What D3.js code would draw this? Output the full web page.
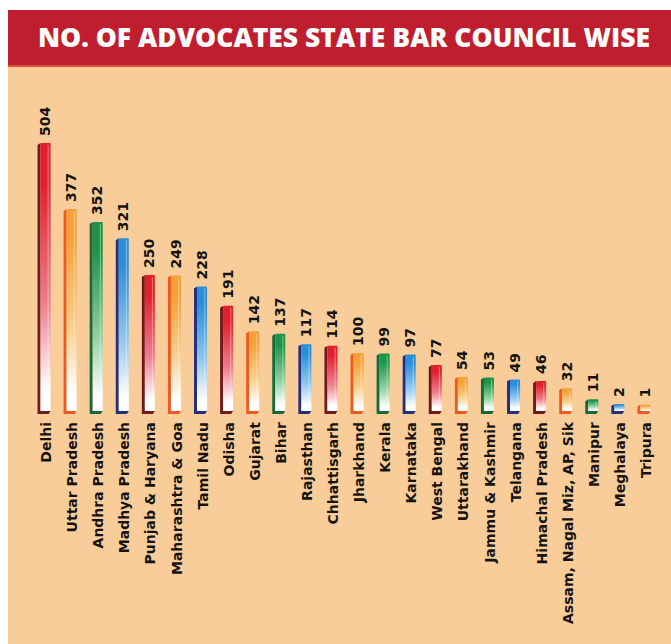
<!DOCTYPE html>
<html>
<head>
<meta charset="utf-8">
<script src="https://cdn.jsdelivr.net/npm/d3@7"></script>
<style>
  html, body { margin: 0; padding: 0; background: #ffffff; }
  svg { display: block; }
</style>
</head>
<body>
<div id="chart"></div>
<script>
const title = "NO. OF ADVOCATES STATE BAR COUNCIL WISE";
const categories = ["Delhi","Uttar Pradesh","Andhra Pradesh","Madhya Pradesh","Punjab & Haryana","Maharashtra & Goa","Tamil Nadu","Odisha","Gujarat","Bihar","Rajasthan","Chhattisgarh","Jharkhand","Kerala","Karnataka","West Bengal","Uttarakhand","Jammu & Kashmir","Telangana","Himachal Pradesh","Assam, Nagal Miz, AP, Sik","Manipur","Meghalaya","Tripura"];
const values = [504,377,352,321,250,249,228,191,142,137,117,114,100,99,97,77,54,53,49,46,32,11,2,1];
const colorKeys = ["red","orange","green","blue","red","orange","blue","red","orange","green","blue","red","orange","green","blue","red","orange","green","blue","red","orange","green","blue","orange"];

const palette = {
  red:    { top: "#e2202b", mid: "#ee7f8e", edge: "#6e1a1f" },
  orange: { top: "#f5a137", mid: "#fbd08f", edge: "#ec5a22" },
  green:  { top: "#1d9448", mid: "#8fcf9f", edge: "#17683a" },
  blue:   { top: "#2a8ed8", mid: "#93c9ef", edge: "#262e80" }
};

const W = 671, H = 644;
const svg = d3.select("#chart").append("svg").attr("width", W).attr("height", H);

// backgrounds
svg.append("rect").attr("x", 0).attr("y", 0).attr("width", W).attr("height", H).attr("fill", "#ffffff");
svg.append("rect").attr("x", 8).attr("y", 66).attr("width", W - 8).attr("height", H - 66).attr("fill", "#f8cd99");
svg.append("rect").attr("x", 8).attr("y", 10).attr("width", W - 8).attr("height", 56).attr("fill", "#bf1e2e");
svg.append("rect").attr("x", 8).attr("y", 65).attr("width", W - 8).attr("height", 2).attr("fill", "#d9553f");

svg.append("text")
  .attr("x", 38).attr("y", 47)
  .attr("textLength", 612).attr("lengthAdjust", "spacingAndGlyphs")
  .attr("font-family", "'Open Sans', 'DejaVu Sans', sans-serif")
  .attr("font-weight", 800).attr("font-size", 27)
  .attr("fill", "#ffffff")
  .text(title);

// gradients
const defs = svg.append("defs");
Object.entries(palette).forEach(([k, c]) => {
  const g = defs.append("linearGradient").attr("id", "grad-" + k)
    .attr("x1", 0).attr("y1", 0).attr("x2", 0).attr("y2", 1);
  g.append("stop").attr("offset", "0%").attr("stop-color", c.top);
  g.append("stop").attr("offset", "15%").attr("stop-color", c.top);
  g.append("stop").attr("offset", "60%").attr("stop-color", c.mid);
  g.append("stop").attr("offset", "92%").attr("stop-color", "#ffffff");
  g.append("stop").attr("offset", "100%").attr("stop-color", "#ffffff");
});

const x = d3.scaleBand().domain(categories).range([31, 657]).paddingInner(0.5).paddingOuter(0.25);
const y = d3.scaleLinear().domain([0, 504]).range([405, 143]);
const baseY = 414;
const bw = x.bandwidth();
const edge = 3;

const data = categories.map((c, i) => ({ cat: c, val: values[i], key: colorKeys[i] }));

const bars = svg.append("g").selectAll("g").data(data).join("g");

// dark 3D side + bottom lip
bars.append("path")
  .attr("fill", d => palette[d.key].edge)
  .attr("d", d => {
    const x0 = x(d.cat), x1 = x0 + bw, t = y(d.val);
    return `M${x0},${t + 2} L${x0 + edge},${t} L${x0 + edge},${baseY - edge} L${x1},${baseY - edge} L${x1 - 2},${baseY} L${x0},${baseY} Z`;
  });

// front face
bars.append("rect")
  .attr("x", d => x(d.cat) + edge)
  .attr("y", d => y(d.val))
  .attr("width", bw - edge)
  .attr("height", d => baseY - edge - y(d.val))
  .attr("rx", 1)
  .attr("fill", d => `url(#grad-${d.key})`);

// highlight
bars.append("rect")
  .attr("x", d => x(d.cat) + bw - 3)
  .attr("y", d => y(d.val) + 2)
  .attr("width", 1.2)
  .attr("height", d => Math.max(0, baseY - edge - y(d.val) - 4))
  .attr("fill", "#ffffff").attr("opacity", 0.35);

// value labels
bars.append("text")
  .attr("transform", d => `translate(${x(d.cat) + bw / 2 + 1},${y(d.val) - 7}) rotate(-90)`)
  .attr("dy", "0.36em")
  .attr("text-anchor", "start")
  .attr("font-family", "'DejaVu Sans', sans-serif")
  .attr("font-weight", "bold").attr("font-size", 14)
  .attr("fill", "#151312")
  .text(d => d.val);

// category labels
bars.append("text")
  .attr("transform", d => `translate(${x(d.cat) + bw / 2 + 2},${baseY + 8}) rotate(-90)`)
  .attr("dy", "0.36em")
  .attr("text-anchor", "end")
  .attr("font-family", "'DejaVu Sans', sans-serif")
  .attr("font-weight", "bold").attr("font-size", 14)
  .attr("fill", "#151312")
  .text(d => d.cat);
</script>
</body>
</html>
